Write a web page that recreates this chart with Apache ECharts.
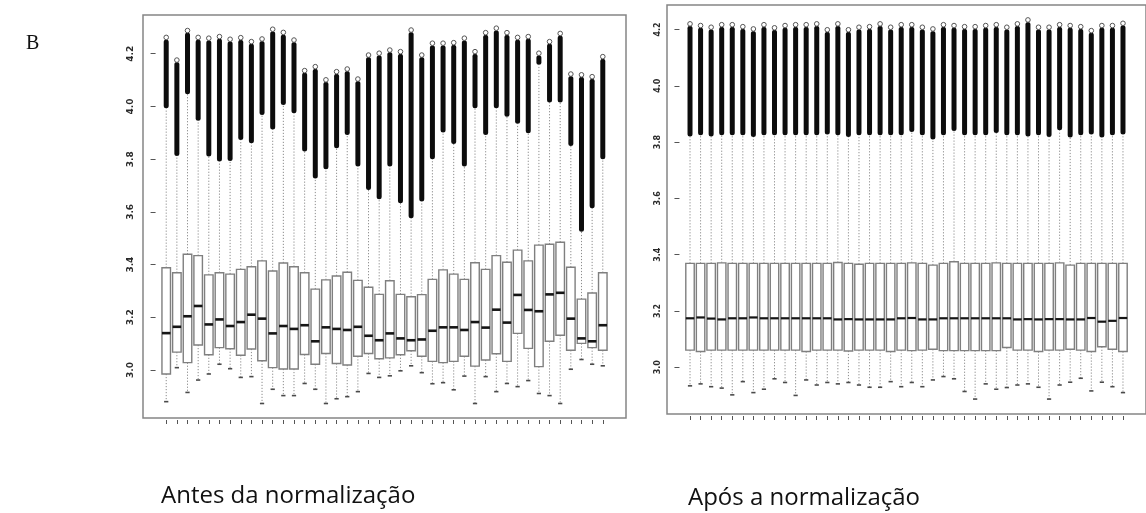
<!DOCTYPE html>
<html>
<head>
<meta charset="utf-8">
<script src="https://cdn.jsdelivr.net/npm/echarts@6/dist/echarts.min.js"></script>
<style>
  html, body { margin: 0; padding: 0; background: #ffffff; }
  #chart { width: 1146px; height: 513px; }
</style>
</head>
<body>
<div id="chart"></div>
<script>
// Sample (array) index on the x axis
const sampleIds = [1,2,3,4,5,6,7,8,9,10,11,12,13,14,15,16,17,18,19,20,21,
                   22,23,24,25,26,27,28,29,30,31,32,33,34,35,36,37,38,39,40,41,42];

// Y axis tick labels (log10 intensity)
const yTicks = [3.0, 3.2, 3.4, 3.6, 3.8, 4.0, 4.2];

// --- Before normalisation ---
const beforeLow = [2.880,3.009,2.915,2.962,2.985,3.022,3.005,2.972,2.975,2.873,2.927,2.903,2.903,2.949,
                   2.927,2.873,2.891,2.899,2.918,2.987,2.972,2.978,2.997,3.016,2.990,2.948,2.952,2.925,
                   2.977,2.873,2.975,2.918,2.949,2.937,2.960,2.911,2.903,2.873,3.003,3.040,3.022,3.016];
const beforeQ1 = [2.985,3.068,3.028,3.095,3.058,3.085,3.081,3.056,3.080,3.035,3.009,3.004,3.004,3.059,
                  3.022,3.063,3.025,3.019,3.052,3.063,3.043,3.046,3.058,3.073,3.052,3.033,3.028,3.033,
                  3.052,3.015,3.038,3.062,3.033,3.139,3.082,3.013,3.109,3.132,3.075,3.101,3.085,3.075];
const beforeMedian = [3.140,3.164,3.204,3.243,3.173,3.192,3.167,3.182,3.210,3.195,3.139,3.167,3.156,3.170,
                      3.109,3.162,3.156,3.152,3.164,3.130,3.113,3.139,3.120,3.113,3.116,3.149,3.162,3.162,
                      3.152,3.182,3.161,3.229,3.180,3.285,3.228,3.223,3.287,3.293,3.195,3.120,3.109,3.170];
const beforeQ3 = [3.388,3.369,3.439,3.434,3.361,3.369,3.364,3.382,3.392,3.414,3.376,3.406,3.392,3.369,
                  3.307,3.342,3.357,3.371,3.340,3.314,3.287,3.339,3.287,3.278,3.286,3.344,3.380,3.364,
                  3.344,3.407,3.382,3.434,3.409,3.455,3.414,3.474,3.477,3.485,3.390,3.269,3.292,3.369];
const beforeHigh = [3.993,3.812,4.046,3.946,3.810,3.791,3.793,3.873,3.860,3.968,3.913,4.006,3.974,3.829,
                    3.727,3.762,3.841,3.892,3.772,3.683,3.648,3.772,3.633,3.576,3.639,3.800,3.901,3.858,
                    3.772,3.993,3.892,3.993,3.961,3.934,3.898,4.158,4.015,4.015,3.850,3.525,3.614,3.800];
const beforeOutMax = [4.262,4.176,4.288,4.262,4.259,4.265,4.255,4.261,4.246,4.256,4.293,4.281,4.252,4.136,
                      4.151,4.101,4.132,4.142,4.104,4.195,4.202,4.214,4.208,4.290,4.195,4.240,4.240,4.242,
                      4.259,4.208,4.280,4.297,4.280,4.262,4.265,4.202,4.246,4.277,4.123,4.120,4.113,4.189];

// --- After normalisation ---
const afterLow = [2.934,2.941,2.931,2.926,2.902,2.949,2.910,2.922,2.959,2.946,2.900,2.955,2.937,2.946,
                  2.941,2.946,2.937,2.929,2.929,2.949,2.931,2.946,2.931,2.955,2.967,2.959,2.914,2.887,
                  2.941,2.922,2.928,2.937,2.941,2.929,2.887,2.937,2.947,2.961,2.916,2.947,2.931,2.910];
const afterQ1 = [3.061,3.056,3.061,3.061,3.061,3.061,3.061,3.061,3.061,3.061,3.061,3.056,3.061,3.061,
                 3.061,3.058,3.061,3.061,3.061,3.056,3.061,3.059,3.061,3.064,3.059,3.059,3.059,3.059,
                 3.059,3.059,3.070,3.061,3.061,3.056,3.061,3.061,3.064,3.061,3.056,3.073,3.064,3.056];
const afterMedian = [3.174,3.177,3.173,3.170,3.174,3.174,3.177,3.174,3.174,3.174,3.174,3.174,3.174,3.174,
                     3.170,3.171,3.170,3.170,3.170,3.170,3.174,3.175,3.170,3.170,3.174,3.174,3.174,3.174,
                     3.174,3.174,3.174,3.170,3.171,3.170,3.171,3.171,3.170,3.170,3.175,3.162,3.165,3.175];
const afterQ3 = [3.369,3.369,3.369,3.371,3.369,3.369,3.369,3.369,3.369,3.369,3.369,3.369,3.369,3.369,
                 3.372,3.369,3.366,3.369,3.369,3.369,3.369,3.371,3.369,3.363,3.369,3.375,3.369,3.369,
                 3.369,3.371,3.369,3.369,3.369,3.369,3.369,3.371,3.363,3.369,3.369,3.369,3.369,3.369];
const afterHigh = [3.820,3.824,3.820,3.824,3.824,3.824,3.818,3.824,3.824,3.824,3.824,3.824,3.824,3.827,
                   3.824,3.818,3.824,3.824,3.824,3.824,3.824,3.836,3.824,3.809,3.824,3.839,3.824,3.824,
                   3.824,3.832,3.824,3.824,3.820,3.824,3.818,3.842,3.816,3.824,3.827,3.816,3.824,3.827];
const afterOutMax = [4.220,4.214,4.208,4.217,4.217,4.210,4.202,4.217,4.206,4.214,4.217,4.217,4.220,4.199,
                     4.220,4.199,4.208,4.210,4.220,4.208,4.217,4.217,4.208,4.202,4.217,4.214,4.210,4.210,
                     4.214,4.217,4.208,4.220,4.234,4.208,4.208,4.217,4.214,4.210,4.196,4.214,4.214,4.222];

// rows: [id, whiskerLow, q1, median, q3, whiskerHigh, outlierMax]
function buildRows(low, q1, med, q3, hi, outMax) {
  return sampleIds.map((id, i) => [id, low[i], q1[i], med[i], q3[i], hi[i], outMax[i]]);
}

const BOX_COLOR = '#7f7f7f';
const WHISKER_COLOR = '#8c8c8c';

function makeRenderer(medianWidth) {
  return function (params, api) {
    const x = api.value(0);
    const pt = v => api.coord([x, v]);
    const w = api.size([0.8, 0])[0];
    const [cx, yLow] = pt(api.value(1));
    const yQ1 = pt(api.value(2))[1];
    const yMed = pt(api.value(3))[1];
    const yQ3 = pt(api.value(4))[1];
    const yHi = pt(api.value(5))[1];
    const yTop = pt(api.value(6))[1];
    const dotted = { stroke: WHISKER_COLOR, lineWidth: 1, lineDash: [1.2, 1.8] };
    return {
      type: 'group',
      children: [
        { type: 'line', shape: { x1: cx, y1: yQ3, x2: cx, y2: yHi }, style: dotted },
        { type: 'line', shape: { x1: cx, y1: yQ1, x2: cx, y2: yLow }, style: dotted },
        { type: 'line', shape: { x1: cx - w / 4, y1: yLow, x2: cx + w / 4, y2: yLow },
          style: { stroke: '#4a4a4a', lineWidth: 1.6 } },
        { type: 'rect', shape: { x: cx - w / 2, y: yQ3, width: w, height: yQ1 - yQ3 },
          style: { fill: '#ffffff', stroke: BOX_COLOR, lineWidth: 1.4 } },
        { type: 'line', shape: { x1: cx - w / 2, y1: yMed, x2: cx + w / 2, y2: yMed },
          style: { stroke: '#151515', lineWidth: medianWidth } },
        // dense run of outliers above the upper whisker
        { type: 'rect', shape: { x: cx - 2.5, y: yTop + 2, width: 5, height: Math.max(0, yHi - yTop - 2), r: 2.5 },
          style: { fill: '#0c0c0c' } },
        // highest outlier
        { type: 'circle', shape: { cx: cx, cy: yTop, r: 2.3 },
          style: { fill: '#ffffff', stroke: '#555555', lineWidth: 1 } }
      ]
    };
  };
}

const chart = echarts.init(document.getElementById('chart'), null, { renderer: 'canvas' });

function xAxisFor(gridIndex) {
  return {
    type: 'value', gridIndex: gridIndex, min: -1.18, max: 44.18, offset: 2,
    axisLine: { show: false },
    axisTick: { show: true, customValues: sampleIds, length: 4,
                lineStyle: { color: '#555555', width: 1 } },
    axisLabel: { show: false },
    splitLine: { show: false }
  };
}

function yAxisFor(gridIndex, min, max, fontSize, margin) {
  return {
    type: 'value', gridIndex: gridIndex, min: min, max: max,
    axisLine: { show: false },
    axisTick: { show: true, customValues: yTicks, length: 5,
                lineStyle: { color: '#555555', width: 1 } },
    axisLabel: { show: true, customValues: yTicks, rotate: 90, margin: margin,
                 formatter: v => v.toFixed(1),
                 fontFamily: 'DejaVu Sans', fontSize: fontSize, fontWeight: 'bold', color: '#2a2a2a' },
    splitLine: { show: false }
  };
}

chart.setOption({
  animation: false,
  backgroundColor: '#ffffff',
  grid: [
    { left: 143, top: 15, width: 483, height: 403, show: true,
      borderColor: '#858585', borderWidth: 1.5, backgroundColor: 'transparent' },
    { left: 667, top: 5, width: 490, height: 409, show: true,
      borderColor: '#858585', borderWidth: 1.5, backgroundColor: 'transparent' }
  ],
  xAxis: [xAxisFor(0), xAxisFor(1)],
  yAxis: [
    yAxisFor(0, 2.818, 4.347, 9, 8),
    yAxisFor(1, 2.834, 4.287, 8, 5)
  ],
  series: [
    {
      name: 'Antes da normalização', type: 'custom', xAxisIndex: 0, yAxisIndex: 0,
      renderItem: makeRenderer(2.6),
      encode: { x: 0, y: [1, 2, 3, 4, 5, 6] },
      data: buildRows(beforeLow, beforeQ1, beforeMedian, beforeQ3, beforeHigh, beforeOutMax)
    },
    {
      name: 'Após a normalização', type: 'custom', xAxisIndex: 1, yAxisIndex: 1,
      renderItem: makeRenderer(2.2),
      encode: { x: 0, y: [1, 2, 3, 4, 5, 6] },
      data: buildRows(afterLow, afterQ1, afterMedian, afterQ3, afterHigh, afterOutMax)
    }
  ],
  graphic: [
    { type: 'text', left: 26, top: 34,
      style: { text: 'B', font: '20px "Liberation Serif"', fill: '#111111' } },
    { type: 'text', x: 161, y: 496,
      style: { text: 'Antes da normalização', font: '24px "Open Sans"', fill: '#111111',
               verticalAlign: 'middle' } },
    { type: 'text', x: 688, y: 498,
      style: { text: 'Após a normalização', font: '24px "Open Sans"', fill: '#111111',
               verticalAlign: 'middle' } }
  ]
});
</script>
</body>
</html>
